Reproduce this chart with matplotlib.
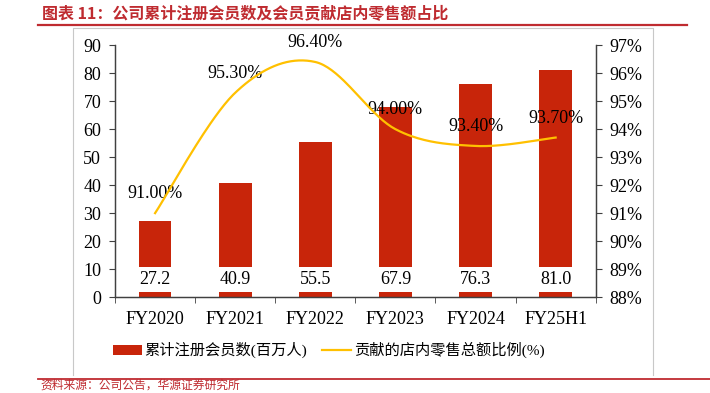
import numpy as np
import matplotlib
matplotlib.use('Agg')
import matplotlib.pyplot as plt
from matplotlib.patches import Patch
from matplotlib.lines import Line2D

# data
periods = ['FY2020', 'FY2021', 'FY2022', 'FY2023', 'FY2024', 'FY25H1']
members = [27.2, 40.9, 55.5, 67.9, 76.3, 81.0]          # 百万人
share = [91.0, 95.3, 96.4, 94.0, 93.4, 93.7]            # %

bar_color = '#C8250A'
line_color = '#FFC000'
red_text = '#BF2B30'
serif_cjk = ['Liberation Serif', 'Noto Sans CJK SC']

plt.rcParams['font.family'] = serif_cjk
plt.rcParams['axes.unicode_minus'] = False


def smooth_curve(xs, ys, n=40):
    # excel-like smoothed line (catmull-rom -> cubic bezier)
    pts = np.column_stack([xs, ys]).astype(float)
    out = []
    for i in range(len(pts) - 1):
        p0 = pts[i - 1] if i > 0 else pts[i]
        p1 = pts[i]
        p2 = pts[i + 1]
        p3 = pts[i + 2] if i + 2 < len(pts) else pts[i + 1]
        c1 = p1 + (p2 - p0) / 6
        c2 = p2 - (p3 - p1) / 6
        t = np.linspace(0, 1, n)[:, None]
        seg = ((1 - t) ** 3) * p1 + 3 * ((1 - t) ** 2) * t * c1 + 3 * (1 - t) * t ** 2 * c2 + t ** 3 * p2
        out.append(seg if i == 0 else seg[1:])
    out = np.vstack(out)
    return out[:, 0], out[:, 1]


fig = plt.figure(figsize=(7.1, 3.93), dpi=100)
ax = fig.add_axes([0.162, 0.244, 0.677, 0.641])
ax2 = ax.twinx()

x = np.arange(len(periods))
ax.bar(x, members, width=0.41, color=bar_color, zorder=2)
ax.set_xlim(-0.5, len(periods) - 0.5)
ax.set_ylim(0, 90)
ax.set_yticks(np.arange(0, 91, 10))

# value labels sit at the bar foot on a white box
for xi, v in zip(x, members):
    ax.text(xi, 6.2, f'{v:.1f}', ha='center', va='center', fontsize=13,
            family='Liberation Serif', zorder=3,
            bbox=dict(boxstyle='square,pad=0.22', facecolor='white', edgecolor='none'))

sx, sy = smooth_curve(x, share)
ax2.plot(sx, sy, color=line_color, lw=1.6, zorder=4)
ax2.set_ylim(88, 97)
ax2.set_yticks(np.arange(88, 98, 1))
ax2.set_yticklabels([f'{v}%' for v in range(88, 98)])
for xi, v in zip(x, share):
    ax2.annotate(f'{v:.2f}%', (xi, v), xytext=(0, 14), textcoords='offset points',
                 ha='center', va='center', fontsize=13, family='Liberation Serif')

ax.set_zorder(ax2.get_zorder() - 1)
ax.patch.set_visible(False)

# axes styling
ax.set_xticks(x)
ax.set_xticklabels(periods)
ax.set_xticks(np.arange(-0.5, len(periods), 1), minor=True)
ax.tick_params(axis='x', which='major', length=0, pad=10, labelsize=13)
ax.tick_params(axis='x', which='minor', length=4, direction='out', color='#404040')
ax.tick_params(axis='y', length=4, direction='out', labelsize=13, pad=6, color='#404040')
ax2.tick_params(axis='y', length=4, direction='out', labelsize=13, pad=6, color='#404040')
for a in (ax, ax2):
    a.spines['top'].set_visible(False)
    for s in ('left', 'right', 'bottom'):
        a.spines[s].set_color('#404040')
        a.spines[s].set_linewidth(0.9)

handles = [Patch(facecolor=bar_color, edgecolor='none'),
           Line2D([0], [0], color=line_color, lw=1.6)]
fig.legend(handles, ['累计注册会员数(百万人)', '贡献的店内零售总额比例(%)'],
           loc='center', bbox_to_anchor=(0.463, 0.109), ncol=2, frameon=False,
           fontsize=11, handlelength=1.9, handleheight=0.6, handletextpad=0.15,
           columnspacing=1.0)

# frame, title and source lines
fig.add_artist(plt.Line2D([73 / 710, 73 / 710, 653 / 710, 653 / 710],
                          [1 - 375 / 393, 1 - 28 / 393, 1 - 28 / 393, 1 - 375 / 393],
                          color='#C8C8C8', lw=0.8))
fig.add_artist(plt.Line2D([38 / 710, 687 / 710], [1 - 24.5 / 393] * 2, color=red_text, lw=1.6))
fig.add_artist(plt.Line2D([38 / 710, 710 / 710], [1 - 379 / 393] * 2, color=red_text, lw=1.3))
fig.text(42 / 710, 1 - 13 / 393, '图表 11：公司累计注册会员数及会员贡献店内零售额占比',
         color=red_text, fontsize=11.5, fontweight='bold', va='center', ha='left',
         family=['Noto Sans CJK SC', 'DejaVu Sans'])
fig.text(40 / 710, 1 - 392 / 393, '资料来源：公司公告，华源证券研究所', color=red_text,
         fontsize=8.5, va='bottom', ha='left', family=['Noto Sans CJK SC', 'DejaVu Sans'])

fig.savefig('out.png', dpi=100)
